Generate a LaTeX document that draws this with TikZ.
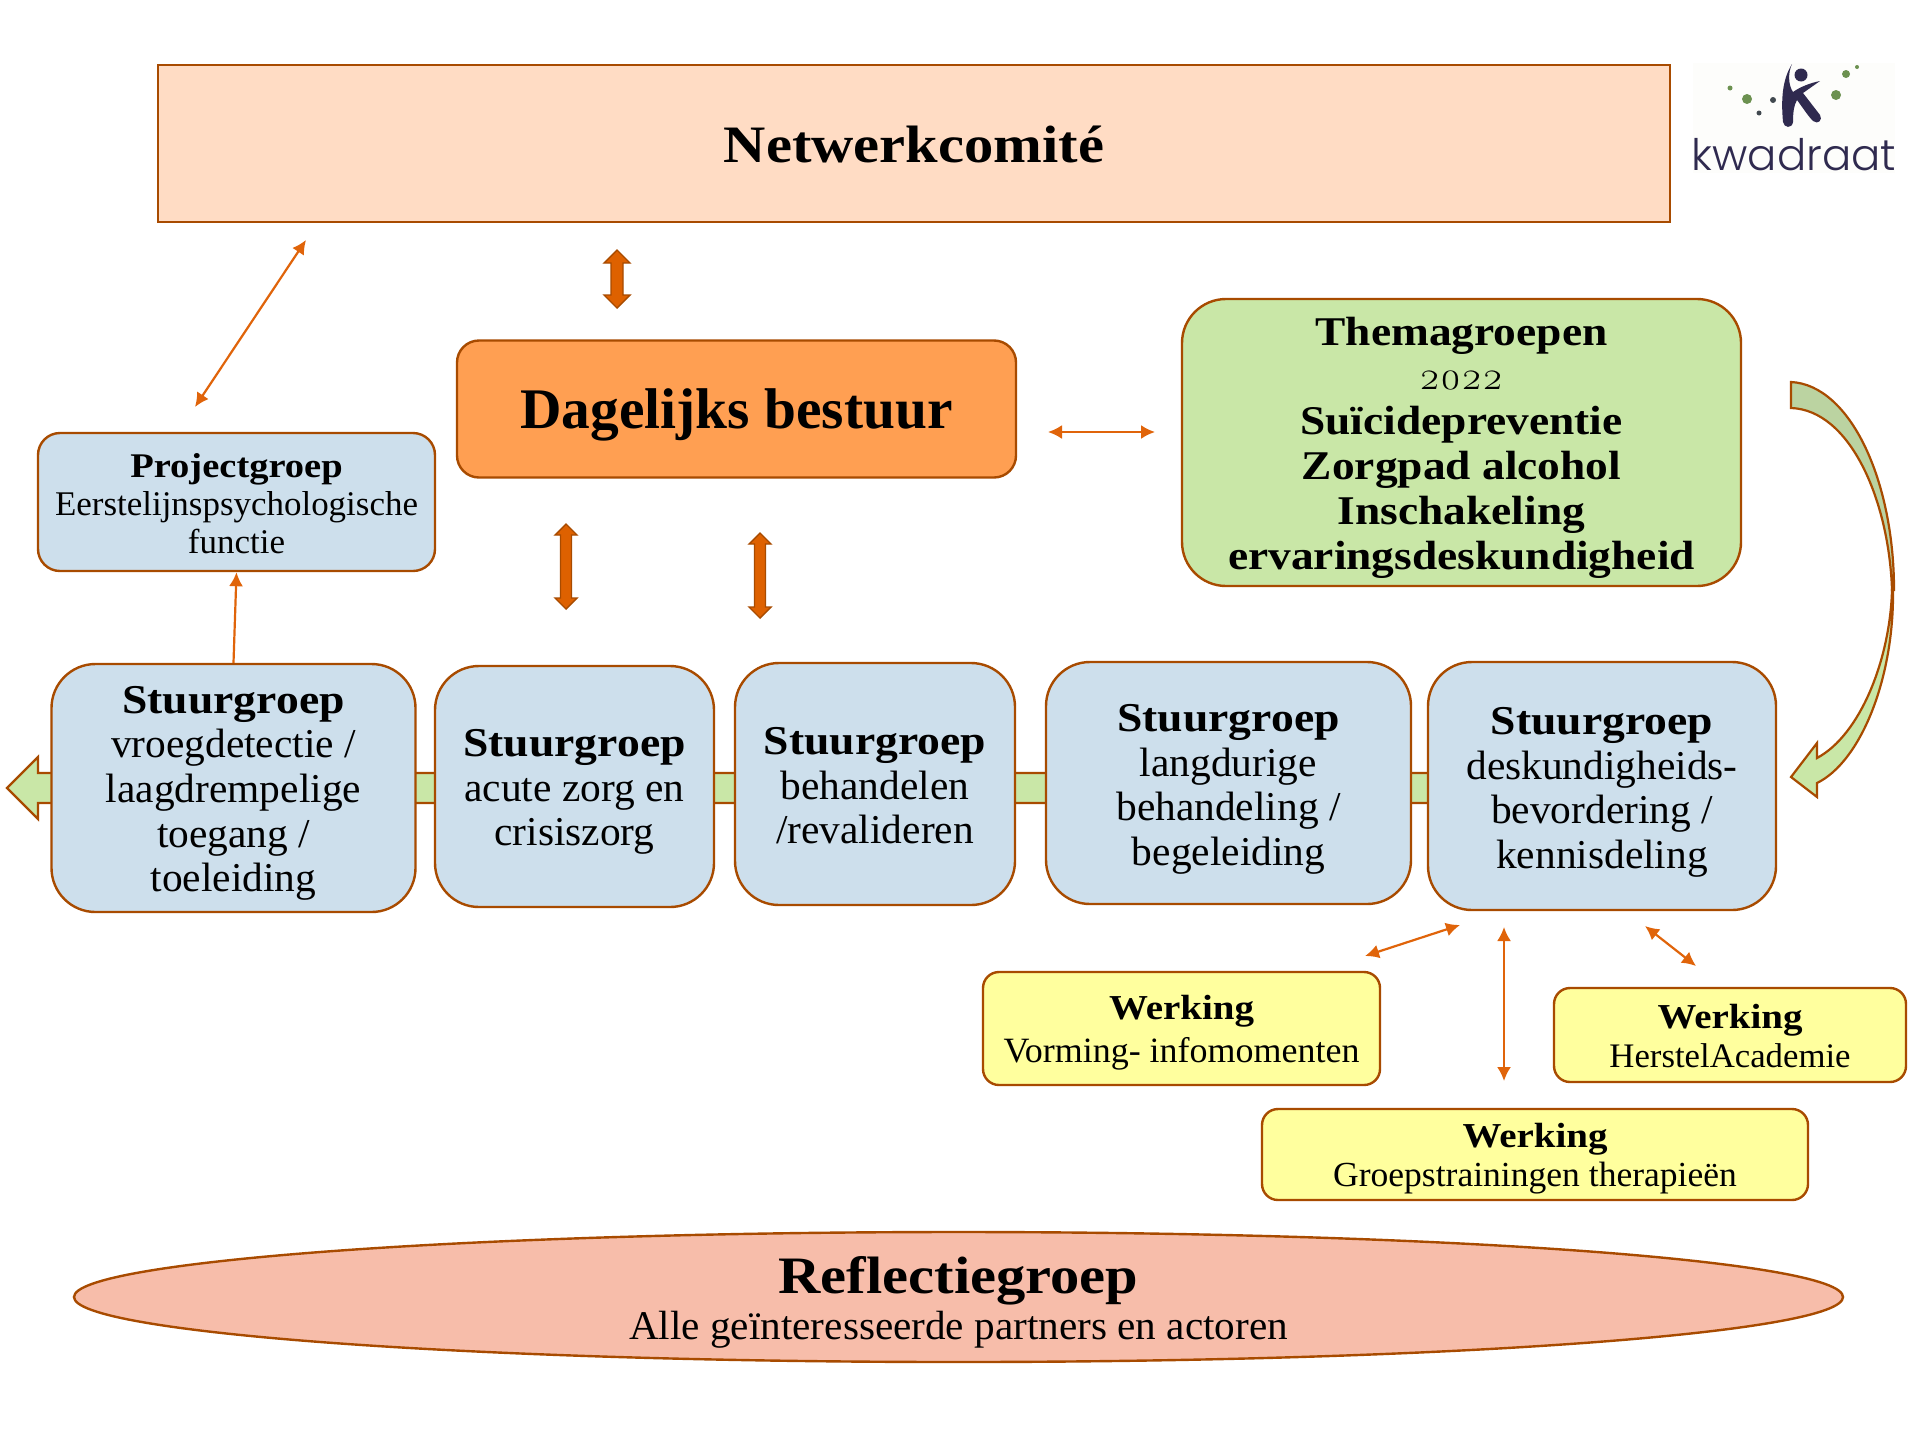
\documentclass[tikz,border=0pt]{standalone}
\usepackage{fontspec}
\usetikzlibrary{arrows.meta,shapes.geometric}
\setmainfont[FakeStretch=1.01,BoldFeatures={FakeStretch=1.113}]{Liberation Serif}
\newfontfamily\timesf{Liberation Serif}
\newfontfamily\oldnum[Numbers=OldStyle]{Latin Modern Roman}
\newfontfamily\logof{Poppins Light}
\definecolor{edge}{HTML}{A84B00}
\definecolor{arrowc}{HTML}{E0640A}
\definecolor{blockc}{HTML}{DE6100}
\definecolor{peach}{HTML}{FFDCC4}
\definecolor{orangef}{HTML}{FF9F52}
\definecolor{greenf}{HTML}{C9E7A7}
\definecolor{greendk}{HTML}{BBD3A1}
\definecolor{bluef}{HTML}{CDDFEC}
\definecolor{yellowf}{HTML}{FFFF9E}
\definecolor{salmon}{HTML}{F7BDAA}
\definecolor{logod}{HTML}{2F2A4F}
\definecolor{logog}{HTML}{6C9150}
\definecolor{logobg}{HTML}{FDFDFB}
\newcommand{\fs}[2]{\fontsize{#1}{#2}\selectfont}
\newcommand{\dn}[1]{\rule{0pt}{#1pt}}
\newcommand{\blockarrow}[6]{% x,y1,y2,headhalf,shafthalf,headlen
  \draw[blockst] (#1,#2) -- ++(#4,#6) -- ++({-(#4-#5)},0) -- ({#1+#5},{#3-#6}) -- ++({#4-#5},0) -- (#1,#3) -- ++(-#4,-#6) -- ++({#4-#5},0) -- ({#1-#5},{#2+#6}) -- ++({-(#4-#5)},0) -- cycle;}
\tikzset{
  x=0.5pt,y=-0.5pt,
  boxst/.style={draw=edge,line width=1.2pt,align=center,inner sep=0pt,text=black},
  peachbox/.style={boxst,rectangle,fill=peach,line width=1.4pt},
  orangebox/.style={boxst,rectangle,rounded corners=11pt,fill=orangef},
  themabox/.style={boxst,rectangle,rounded corners=22pt,fill=greenf},
  projbox/.style={boxst,rectangle,rounded corners=11pt,fill=bluef},
  stuurbox/.style={boxst,rectangle,rounded corners=22pt,fill=bluef,font=\fs{20.5}{22.3}},
  werkbox/.style={boxst,rectangle,rounded corners=8pt,fill=yellowf},
  reflbox/.style={boxst,ellipse,fill=salmon,inner ysep=-6pt},
  blockst/.style={draw=edge,line width=0.7pt,fill=blockc,line join=miter},
  thinarrow/.style={draw=arrowc,line width=1.1pt,{Latex[length=7pt,width=7pt]}-{Latex[length=7pt,width=7pt]}},
  onearrow/.style={draw=arrowc,line width=1.1pt,-{Latex[length=7pt,width=7pt]}},
  flowst/.style={draw=edge,line width=1.1pt,fill=greenf,line join=miter},
}
\begin{document}
\begin{tikzpicture}
\useasboundingbox (0,0) rectangle (1920,1440);
\fill[white] (0,0) rectangle (1920,1440);

% green band behind the steering groups
\draw[flowst] (420,773) -- (38,773) -- (38,757) -- (7,788) -- (38,819) -- (38,803) -- (1435,803) -- (1435,773) -- cycle;

% curved arrow
\draw[flowst,fill=greenf] (1893,590) .. controls (1894,680) and (1860,762) .. (1817,783) -- (1817,797) -- (1791,777) -- (1817,743) -- (1817,758) .. controls (1860,735) and (1890,660) .. (1892,590) -- cycle;
\draw[flowst,fill=greendk] (1791,382) .. controls (1850,385) and (1894,480) .. (1894,590) -- (1892,590) .. controls (1889,500) and (1850,410) .. (1791,408) -- cycle;

% boxes
\node[peachbox,minimum width=756pt,minimum height=78.5pt,font=\fs{26.3}{30}\bfseries] (netwerk) at (914,143.5) {\dn{19.5}Netwerkcomité};
\node[orangebox,minimum width=279.5pt,minimum height=68.5pt,font=\timesf\fs{28.7}{32}\bfseries] (dagelijks) at (736.5,409) {\dn{25.7}Dagelijks bestuur};
\node[themabox,minimum width=279.5pt,minimum height=143.5pt,font=\fs{20.4}{22.4}\bfseries] (thema) at (1461.5,442.5) {\dn{19}Themagroepen\\{\mdseries\oldnum\fs{20}{22.4}2022}\\Suïcidepreventie\\Zorgpad alcohol\\Inschakeling\\ervaringsdeskundigheid};
\node[projbox,minimum width=198.5pt,minimum height=69pt,font=\fs{17.3}{19}] (project) at (236.5,502) {\dn{14}{\textbf{Projectgroep}}\\Eerstelijnspsychologische\\functie};

\node[stuurbox,minimum width=182pt,minimum height=124pt] (s1) at (233.5,788) {\dn{19}\textbf{Stuurgroep}\\vroegdetectie /\\laagdrempelige\\toegang /\\toeleiding};
\node[stuurbox,minimum width=139.5pt,minimum height=120.5pt] (s2) at (574.5,786.5) {\dn{19}\textbf{Stuurgroep}\\acute zorg en\\crisiszorg};
\node[stuurbox,minimum width=140pt,minimum height=121pt] (s3) at (875,784) {\dn{15.2}\textbf{Stuurgroep}\\behandelen\\/revalideren};
\node[stuurbox,minimum width=182.5pt,minimum height=121pt] (s4) at (1228.5,783) {\dn{20}\textbf{Stuurgroep}\\langdurige\\behandeling /\\begeleiding};
\node[stuurbox,minimum width=174pt,minimum height=124pt] (s5) at (1602,786) {\dn{20}\textbf{Stuurgroep}\\deskundigheids-\\bevordering /\\kennisdeling};

\node[werkbox,minimum width=198.5pt,minimum height=56.5pt,font=\fs{17.8}{21.5}] (w1) at (1181.5,1028.5) {\dn{16}{\fs{17.5}{21.5}\textbf{Werking}}\\Vorming- infomomenten};
\node[werkbox,minimum width=176pt,minimum height=47pt,font=\fs{17.2}{19.6}] (w2) at (1730,1035) {\dn{13}{\fs{17.5}{19.6}\textbf{Werking}}\\HerstelAcademie};
\node[werkbox,minimum width=273pt,minimum height=45.5pt,font=\fs{17.6}{19.6}] (w3) at (1535,1154.5) {\dn{16.5}{\fs{17.5}{19.6}\textbf{Werking}}\\Groepstrainingen therapieën};

\node[reflbox,minimum width=884.5pt,minimum height=65pt,font=\fs{20.4}{23.2}] (refl) at (958.5,1297) {\dn{24}{\fs{26.3}{23.2}\textbf{Reflectiegroep}}\\Alle geïnteresseerde partners en actoren};

% block arrows
\blockarrow{617}{250}{308}{13}{6}{13}
\blockarrow{566}{524}{609}{11}{5.5}{11}
\blockarrow{760}{533}{618}{11}{5.5}{11}

% thin arrows
\coordinate (a1) at (195,407); \coordinate (a2) at (306,240);
\draw[thinarrow] (a1) -- (a2);
\coordinate (b1) at (1048,432); \coordinate (b2) at (1155,432);
\draw[thinarrow] (b1) -- (b2);
\draw[onearrow] (s1.north) -- (project.south);
\coordinate (c1) at (1365,956); \coordinate (c2) at (1460,925);
\draw[thinarrow] (c1) -- (c2);
\coordinate (d1) at (1504,927); \coordinate (d2) at (1504,1081);
\draw[thinarrow] (d1) -- (d2);
\coordinate (e1) at (1645,926); \coordinate (e2) at (1696,966);
\draw[thinarrow] (e1) -- (e2);

% logo
\fill[logobg] (1693,63) rectangle (1895,173);
\fill[logod] (1792,64) .. controls (1782,80) and (1781,100) .. (1783,122) .. controls (1784,128) and (1792,129) .. (1793,122) .. controls (1793,112) and (1794,105) .. (1797,100) .. controls (1803,108) and (1808,116) .. (1813,121) .. controls (1818,125) and (1823,120) .. (1820,115) -- (1803,93) -- (1820,81) .. controls (1810,83) and (1800,87) .. (1793,92) .. controls (1788,85) and (1788,72) .. (1792,64) -- cycle;
\fill[logod] (1801,75) circle[radius=6.5];
\fill[logog] (1730,88) circle[radius=2.5] (1747,99) circle[radius=5] (1846,74) circle[radius=4] (1857,67) circle[radius=2] (1836,95) circle[radius=5];
\fill[logod!70!logog] (1773,100) circle[radius=3] (1759,113) circle[radius=2.5];
\node[text=logod,inner sep=0pt,font=\logof\fs{21.7}{24}] (logotext) at (1794,155) {kwadraat};
\end{tikzpicture}
\end{document}
